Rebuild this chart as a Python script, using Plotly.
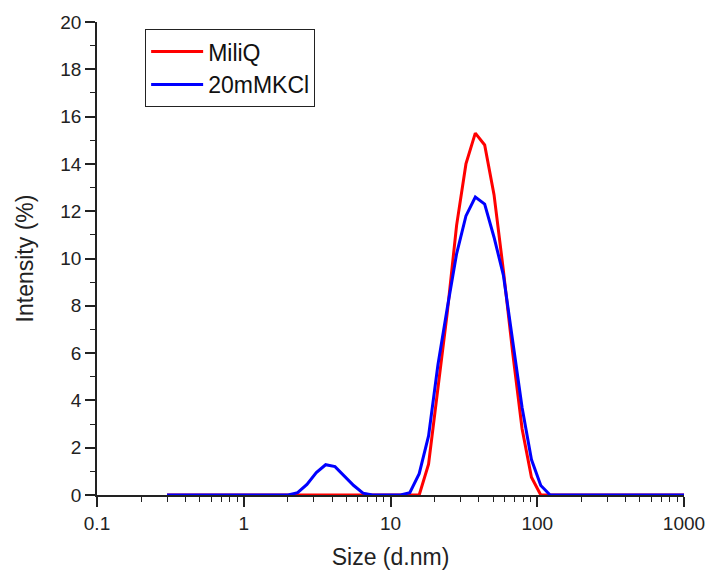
import plotly.graph_objects as go

# size classes (d.nm), Zetasizer-style log bins
size_nm = [0.3, 0.3455, 0.4, 0.4632, 0.5365, 0.6213, 0.7195, 0.8332, 0.9649,
           1.117, 1.294, 1.499, 1.736, 2.01, 2.328, 2.696, 3.122, 3.615, 4.187,
           4.849, 5.615, 6.503, 7.531, 8.721, 10.1, 11.7, 13.54, 15.69, 18.17,
           21.04, 24.36, 28.21, 32.67, 37.84, 43.82, 50.75, 58.77, 68.06, 78.82,
           91.28, 105.7, 122.4, 141.8, 164.2, 190.1, 220.2, 255.0, 295.3, 342.0,
           396.1, 458.7, 531.2, 615.1, 712.4, 825.0, 955.4, 1106]

# intensity (%) - MiliQ
miliq = [0, 0, 0, 0, 0, 0, 0, 0, 0,
         0, 0, 0, 0, 0, 0, 0, 0, 0, 0,
         0, 0, 0, 0, 0, 0, 0, 0, 0, 1.3,
         4.6, 7.7, 11.4, 14.0, 15.3, 14.8, 12.7, 9.5, 6.0, 2.8,
         0.75, 0, 0, 0, 0, 0, 0, 0, 0, 0,
         0, 0, 0, 0, 0, 0, 0, 0]

# intensity (%) - 20 mM KCl
kcl = [0, 0, 0, 0, 0, 0, 0, 0, 0,
       0, 0, 0, 0, 0, 0.1, 0.45, 0.95, 1.28, 1.2,
       0.8, 0.4, 0.08, 0, 0, 0, 0, 0.1, 0.9, 2.5,
       5.5, 7.9, 10.2, 11.8, 12.6, 12.3, 10.9, 9.3, 6.4, 3.7,
       1.5, 0.4, 0, 0, 0, 0, 0, 0, 0, 0,
       0, 0, 0, 0, 0, 0, 0, 0]

x_major = [0.1, 1, 10, 100, 1000]
x_major_text = ["0.1", "1", "10", "100", "1000"]
x_minor = [m * d for d in (0.1, 1, 10, 100) for m in range(2, 10)]

FONT = "Liberation Sans, Arial, sans-serif"
INK = "#222"

fig = go.Figure()
fig.add_trace(go.Scatter(x=size_nm, y=miliq, name="MiliQ", mode="lines",
                         line=dict(color="#ff0000", width=3)))
fig.add_trace(go.Scatter(x=size_nm, y=kcl, name="20mMKCl", mode="lines",
                         line=dict(color="#0000ff", width=3)))

fig.update_layout(
    width=708, height=570,
    margin=dict(l=97, r=24, t=22, b=75, autoexpand=False),
    plot_bgcolor="white", paper_bgcolor="white",
    font=dict(family=FONT, size=19, color=INK),
    showlegend=True,
    legend=dict(x=0.082, y=0.985, xanchor="left", yanchor="top",
                bordercolor=INK, borderwidth=1, bgcolor="white",
                font=dict(size=23, color="#111"), itemwidth=52,
                tracegroupgap=0),
    xaxis=dict(
        type="log", range=[-1, 3], automargin=False,
        tickmode="array", tickvals=x_major, ticktext=x_major_text,
        ticks="outside", ticklen=10, tickwidth=1.5, tickcolor=INK,
        showline=True, linecolor=INK, linewidth=1.5,
        showgrid=False, zeroline=False, layer="below traces",
        minor=dict(tickmode="array", tickvals=x_minor, ticks="outside",
                   ticklen=5, tickwidth=1.2, tickcolor=INK, showgrid=False),
        title=dict(text="Size (d.nm)", font=dict(size=23), standoff=18),
    ),
    yaxis=dict(
        range=[0, 20], dtick=2, automargin=False,
        ticks="outside", ticklen=10, tickwidth=1.5, tickcolor=INK,
        showline=True, linecolor=INK, linewidth=1.5,
        showgrid=False, zeroline=False, layer="below traces",
        minor=dict(dtick=1, ticks="outside", ticklen=5, tickwidth=1.2,
                   tickcolor=INK, showgrid=False),
        title=dict(text="Intensity (%)", font=dict(size=23), standoff=20),
    ),
)

# drop the default body margin so the figure fills the window exactly
fig.write_html("out.html",
               config={"displayModeBar": False},
               post_script="document.body.style.margin='0';"
                           "document.body.style.overflow='hidden';")
